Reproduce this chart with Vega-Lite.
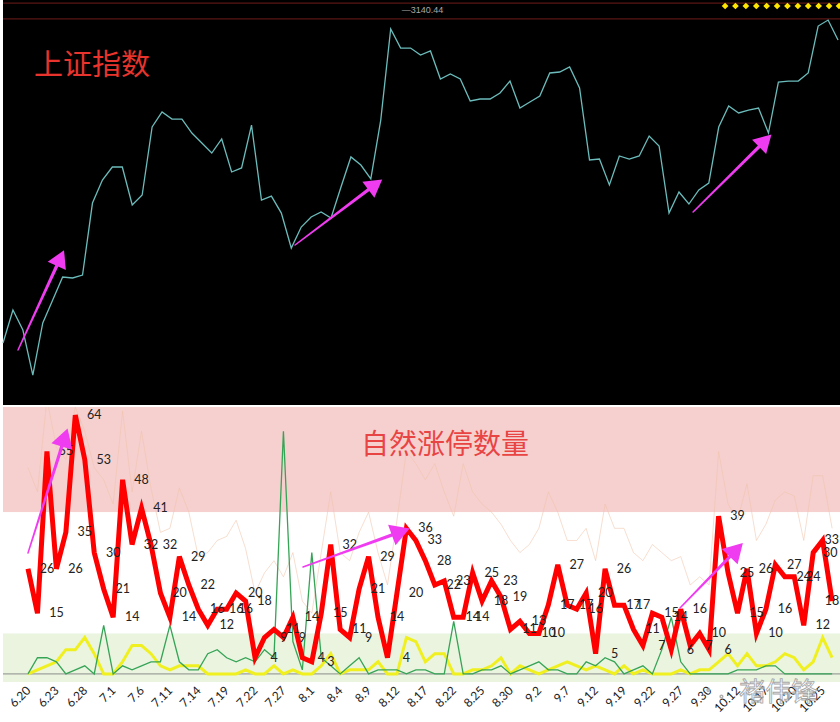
{
  "$schema": "https://vega.github.io/schema/vega-lite/v6.json",
  "padding": 0,
  "spacing": 0,
  "background": "#ffffff",
  "config": {"view": {"stroke": null}, "font": "Lato"},
  "datasets": {
    "top": [
      {"i":0,"v":2876.2},{"i":1,"v":2903.2},{"i":2,"v":2886.8},{"i":3,"v":2850.0},{"i":4,"v":2892.6},{"i":5,"v":2911.4},{"i":6,"v":2930.2},{"i":7,"v":2929.4},{"i":8,"v":2931.8},{"i":9,"v":2990.7},
      {"i":10,"v":3009.5},{"i":11,"v":3020.2},{"i":12,"v":3020.2},{"i":13,"v":2989.1},{"i":14,"v":2997.3},{"i":15,"v":3052.9},{"i":16,"v":3065.2},{"i":17,"v":3059.4},{"i":18,"v":3059.4},{"i":19,"v":3048.0},
      {"i":20,"v":3039.8},{"i":21,"v":3031.6},{"i":22,"v":3043.1},{"i":23,"v":3016.1},{"i":24,"v":3019.4},{"i":25,"v":3054.5},{"i":26,"v":2993.2},{"i":27,"v":2996.4},{"i":28,"v":2982.5},{"i":29,"v":2953.9},
      {"i":30,"v":2971.1},{"i":31,"v":2979.3},{"i":32,"v":2983.4},{"i":33,"v":2978.5},{"i":34,"v":3003.8},{"i":35,"v":3028.4},{"i":36,"v":3021.8},{"i":37,"v":3010.4},{"i":38,"v":3058.6},{"i":39,"v":3133.1},
      {"i":40,"v":3117.5},{"i":41,"v":3117.5},{"i":42,"v":3111.8},{"i":43,"v":3115.1},{"i":44,"v":3092.2},{"i":45,"v":3096.3},{"i":46,"v":3092.2},{"i":47,"v":3074.2},{"i":48,"v":3075.8},{"i":49,"v":3075.8},
      {"i":50,"v":3080.7},{"i":51,"v":3090.5},{"i":52,"v":3068.4},{"i":53,"v":3073.4},{"i":54,"v":3078.3},{"i":55,"v":3097.1},{"i":56,"v":3097.9},{"i":57,"v":3102.0},{"i":58,"v":3084.8},{"i":59,"v":3025.9},
      {"i":60,"v":3026.7},{"i":61,"v":3005.5},{"i":62,"v":3029.2},{"i":63,"v":3026.7},{"i":64,"v":3029.2},{"i":65,"v":3045.5},{"i":66,"v":3037.4},{"i":67,"v":2982.5},{"i":68,"v":2999.7},{"i":69,"v":2989.9},
      {"i":70,"v":3001.4},{"i":71,"v":3007.1},{"i":72,"v":3052.9},{"i":73,"v":3070.1},{"i":74,"v":3064.4},{"i":75,"v":3066.8},{"i":76,"v":3068.4},{"i":77,"v":3048.0},{"i":78,"v":3089.7},{"i":79,"v":3090.5},
      {"i":80,"v":3090.5},{"i":81,"v":3097.1},{"i":82,"v":3135.5},{"i":83,"v":3140.4},{"i":84,"v":3124.1}
    ],
    "topRules": [{"v":3154.3,"i":0,"i2":84.5},{"v":3141.3,"i":0,"i2":84.5}],
    "topText": [{"i":8.95,"v":3102.8,"t":"上证指数"}],
    "topValue": [{"i":42.2,"v":3148.6,"t":"—3140.44"}],
    "diamonds": [
      {"i":72.64,"v":3151.9},{"i":73.68,"v":3151.9},{"i":74.73,"v":3151.9},{"i":75.78,"v":3151.9},{"i":76.82,"v":3151.9},{"i":77.87,"v":3151.9},
      {"i":78.91,"v":3151.9},{"i":79.96,"v":3151.9},{"i":81.0,"v":3151.9},{"i":82.05,"v":3151.9},{"i":83.1,"v":3151.9},{"i":84.1,"v":3151.9}
    ],
    "arrowsTop": [
      {"a":1,"end":"tail","i":1.509,"v":2870.5},{"a":1,"end":"head","i":5.644,"v":2943.5},
      {"a":2,"end":"tail","i":29.38,"v":2956.4},{"a":2,"end":"head","i":37.20,"v":3004.3},
      {"a":3,"end":"tail","i":69.42,"v":2983.4},{"a":3,"end":"head","i":76.46,"v":3040.0}
    ],
    "headsTop": [
      {"i":5.775,"v":2945.7,"ang":24.7},{"i":37.45,"v":3005.8,"ang":53.0},{"i":76.68,"v":3041.7,"ang":45.4}
    ],
    "bands": [
      {"v":40,"v2":66,"b":"pink","i":-2.643,"i2":86.15},{"v":10,"v2":40,"b":"white","i":-2.643,"i2":86.15},{"v":-2,"v2":10,"b":"green","i":-2.643,"i2":86.15}
    ],
    "zero": [{"v":0,"i":-2.643,"i2":86.15}],
    "bot": [
      {"i":0,"red":26,"yel":0,"grn":0,"fnt":51},{"i":1,"red":15,"yel":1,"grn":4,"fnt":45},{"i":2,"red":55,"yel":2,"grn":4,"fnt":68},{"i":3,"red":26,"yel":3,"grn":3,"fnt":56},{"i":4,"red":35,"yel":6,"grn":0,"fnt":53},
      {"i":5,"red":64,"yel":6,"grn":1,"fnt":66},{"i":6,"red":53,"yel":9,"grn":2,"fnt":60},{"i":7,"red":30,"yel":5,"grn":0,"fnt":51},{"i":8,"red":21,"yel":0,"grn":12,"fnt":48},{"i":9,"red":14,"yel":0,"grn":0,"fnt":42},
      {"i":10,"red":48,"yel":3,"grn":2,"fnt":65},{"i":11,"red":32,"yel":7,"grn":1,"fnt":45},{"i":12,"red":41,"yel":7,"grn":2,"fnt":60},{"i":13,"red":32,"yel":5,"grn":3,"fnt":46},{"i":14,"red":20,"yel":2,"grn":3,"fnt":35},
      {"i":15,"red":14,"yel":1,"grn":12,"fnt":36},{"i":16,"red":29,"yel":2,"grn":3,"fnt":46},{"i":17,"red":22,"yel":2,"grn":1,"fnt":40},{"i":18,"red":16,"yel":2,"grn":1,"fnt":29},{"i":19,"red":12,"yel":0,"grn":5,"fnt":30},
      {"i":20,"red":16,"yel":0,"grn":6,"fnt":33},{"i":21,"red":16,"yel":0,"grn":4,"fnt":34},{"i":22,"red":20,"yel":0,"grn":3,"fnt":38},{"i":23,"red":18,"yel":1,"grn":4,"fnt":31},{"i":24,"red":4,"yel":0,"grn":3,"fnt":20},
      {"i":25,"red":9,"yel":0,"grn":6,"fnt":25},{"i":26,"red":11,"yel":2,"grn":4,"fnt":28},{"i":27,"red":9,"yel":0,"grn":60,"fnt":24},{"i":28,"red":14,"yel":1,"grn":8,"fnt":30},{"i":29,"red":4,"yel":0,"grn":1,"fnt":18},
      {"i":30,"red":3,"yel":0,"grn":30,"fnt":15},{"i":31,"red":15,"yel":2,"grn":4,"fnt":30},{"i":32,"red":32,"yel":5,"grn":2,"fnt":45},{"i":33,"red":11,"yel":0,"grn":0,"fnt":30},{"i":34,"red":9,"yel":1,"grn":2,"fnt":28},
      {"i":35,"red":21,"yel":1,"grn":4,"fnt":35},{"i":36,"red":29,"yel":1,"grn":0,"fnt":40},{"i":37,"red":14,"yel":3,"grn":1,"fnt":30},{"i":38,"red":4,"yel":0,"grn":1,"fnt":22},{"i":39,"red":20,"yel":0,"grn":1,"fnt":38},
      {"i":40,"red":36,"yel":9,"grn":0,"fnt":55},{"i":41,"red":33,"yel":8,"grn":1,"fnt":52},{"i":42,"red":28,"yel":3,"grn":1,"fnt":48},{"i":43,"red":22,"yel":5,"grn":0,"fnt":52},{"i":44,"red":23,"yel":5,"grn":0,"fnt":45},
      {"i":45,"red":14,"yel":0,"grn":13,"fnt":39},{"i":46,"red":14,"yel":0,"grn":0,"fnt":52},{"i":47,"red":25,"yel":1,"grn":0,"fnt":45},{"i":48,"red":18,"yel":1,"grn":1,"fnt":42},{"i":49,"red":23,"yel":2,"grn":1,"fnt":40},
      {"i":50,"red":19,"yel":4,"grn":2,"fnt":37},{"i":51,"red":11,"yel":0,"grn":0,"fnt":33},{"i":52,"red":13,"yel":2,"grn":1,"fnt":30},{"i":53,"red":10,"yel":1,"grn":2,"fnt":32},{"i":54,"red":10,"yel":0,"grn":3,"fnt":36},
      {"i":55,"red":17,"yel":1,"grn":1,"fnt":45},{"i":56,"red":27,"yel":2,"grn":1,"fnt":40},{"i":57,"red":17,"yel":3,"grn":0,"fnt":33},{"i":58,"red":16,"yel":2,"grn":0,"fnt":33},{"i":59,"red":20,"yel":1,"grn":3,"fnt":36},
      {"i":60,"red":5,"yel":2,"grn":2,"fnt":28},{"i":61,"red":26,"yel":1,"grn":4,"fnt":42},{"i":62,"red":17,"yel":0,"grn":3,"fnt":36},{"i":63,"red":17,"yel":2,"grn":0,"fnt":36},{"i":64,"red":11,"yel":0,"grn":1,"fnt":30},
      {"i":65,"red":7,"yel":1,"grn":2,"fnt":28},{"i":66,"red":15,"yel":0,"grn":0,"fnt":32},{"i":67,"red":14,"yel":0,"grn":6,"fnt":30},{"i":68,"red":6,"yel":0,"grn":14,"fnt":28},{"i":69,"red":16,"yel":1,"grn":3,"fnt":29},
      {"i":70,"red":7,"yel":0,"grn":0,"fnt":22},{"i":71,"red":10,"yel":1,"grn":0,"fnt":24},{"i":72,"red":6,"yel":1,"grn":0,"fnt":22},{"i":73,"red":39,"yel":3,"grn":0,"fnt":55},{"i":74,"red":25,"yel":5,"grn":0,"fnt":42},
      {"i":75,"red":15,"yel":2,"grn":1,"fnt":38},{"i":76,"red":26,"yel":5,"grn":1,"fnt":47},{"i":77,"red":10,"yel":2,"grn":1,"fnt":33},{"i":78,"red":16,"yel":2,"grn":2,"fnt":37},{"i":79,"red":27,"yel":3,"grn":2,"fnt":43},
      {"i":80,"red":24,"yel":5,"grn":0,"fnt":45},{"i":81,"red":24,"yel":4,"grn":0,"fnt":44},{"i":82,"red":12,"yel":1,"grn":0,"fnt":33},{"i":83,"red":30,"yel":3,"grn":0,"fnt":49},{"i":84,"red":33,"yel":9,"grn":0,"fnt":49},
      {"i":85,"red":18,"yel":4,"grn":0,"fnt":36}
    ],
    "arrowsBot": [
      {"a":4,"end":"tail","i":0.0,"v":29.9},{"a":4,"end":"head","i":3.784,"v":57.77},
      {"a":5,"end":"tail","i":29.07,"v":26.44},{"a":5,"end":"head","i":39.09,"v":34.89},
      {"a":6,"end":"tail","i":68.92,"v":16.3},{"a":6,"end":"head","i":74.66,"v":30.12}
    ],
    "headsBot": [
      {"i":3.879,"v":58.46,"ang":17.6},{"i":39.40,"v":35.16,"ang":70.1},{"i":74.87,"v":30.66,"ang":44.1}
    ],
    "botText": [{"i":44.08,"v":56.36,"t":"自然涨停数量"}],
    "mark": [{"i":79.3,"v":-4.6,"t":"褚伟锋"}],
    "icon": [{"i":71.9,"v":-4.0,"p":"big"},{"i":73.3,"v":-5.6,"p":"small"}]
  },
  "vconcat": [
    {
      "width": 840,
      "height": 405,
      "view": {"fill": "#000000", "stroke": null},
      "encoding": {
        "x": {"field": "i", "type": "quantitative", "scale": {"domain": [0, 84.5], "nice": false, "zero": false}, "axis": null},
        "y": {"field": "v", "type": "quantitative", "scale": {"domain": [2825.5, 3156.8], "nice": false, "zero": false}, "axis": null}
      },
      "layer": [
        {
          "data": {"name": "topRules"},
          "mark": {"type": "rule", "color": "#5a1616", "strokeWidth": 1.2},
          "encoding": {"x2": {"field": "i2"}}
        },
        {
          "data": {"name": "top"},
          "mark": {"type": "line", "color": "#6cbcbc", "strokeWidth": 1.3}
        },
        {
          "data": {"name": "arrowsTop"},
          "mark": {"type": "trail", "color": "#f03cf0"},
          "encoding": {
            "detail": {"field": "a", "type": "nominal"},
            "size": {"field": "end", "type": "nominal", "scale": {"domain": ["tail", "head"], "range": [1.5, 7.5]}, "legend": null}
          }
        },
        {
          "data": {"name": "headsTop"},
          "mark": {"type": "point", "shape": "triangle-up", "filled": true, "color": "#f03cf0", "opacity": 1, "size": 400},
          "encoding": {"angle": {"field": "ang", "type": "quantitative", "scale": null}}
        },
        {
          "data": {"name": "topText"},
          "mark": {"type": "text", "font": "Noto Sans CJK SC", "fontSize": 29, "color": "#e8342c", "align": "center", "baseline": "middle"},
          "encoding": {"text": {"field": "t"}}
        },
        {
          "data": {"name": "topValue"},
          "mark": {"type": "text", "font": "Liberation Sans", "fontSize": 9, "color": "#a8a8a8", "align": "center", "baseline": "middle"},
          "encoding": {"text": {"field": "t"}}
        },
        {
          "data": {"name": "diamonds"},
          "mark": {"type": "point", "shape": "diamond", "filled": true, "color": "#ffe600", "opacity": 1, "size": 45}
        }
      ]
    },
    {
      "width": 840,
      "height": 275,
      "encoding": {
        "x": {
          "field": "i", "type": "quantitative",
          "scale": {"domain": [-2.643, 86.15], "nice": false, "zero": false},
          "axis": {
            "values": [0,3,6,9,12,15,18,21,24,27,30,33,36,39,42,45,48,51,54,57,60,63,66,69,72,75,78,81,84],
            "labelExpr": "['6.20','6.23','6.28','7.1','7.6','7.11','7.14','7.19','7.22','7.27','8.1','8.4','8.9','8.12','8.17','8.22','8.25','8.30','9.2','9.7','9.12','9.19','9.22','9.27','9.30','10.12','10.17','10.20','10.25'][round(datum.value/3)]",
            "labelAngle": -45, "labelAlign": "right", "labelBaseline": "middle",
            "labelFont": "Lato", "labelFontSize": 12, "labelColor": "#222222",
            "labelPadding": 6, "ticks": false, "domain": false, "grid": false, "title": null, "labelOverlap": false
          }
        }
      },
      "layer": [
        {
          "data": {"name": "bands"},
          "mark": {"type": "rect"},
          "encoding": {
            "x2": {"field": "i2"},
            "y": {"field": "v", "type": "quantitative", "scale": {"domain": [-2, 66], "nice": false, "zero": false}, "axis": null},
            "y2": {"field": "v2"},
            "color": {"field": "b", "type": "nominal", "scale": {"domain": ["pink", "white", "green"], "range": ["#f6d0cf", "#ffffff", "#eaf4df"]}, "legend": null}
          }
        },
        {
          "data": {"name": "bot"},
          "mark": {"type": "line", "color": "#f0c2aa", "strokeWidth": 1, "opacity": 0.55, "clip": true},
          "encoding": {
            "y": {"field": "fnt", "type": "quantitative", "scale": {"domain": [-2, 66], "nice": false, "zero": false}, "axis": null}
          }
        },
        {
          "data": {"name": "zero"},
          "mark": {"type": "rule", "color": "#8c8c8c", "strokeWidth": 1},
          "encoding": {
            "x2": {"field": "i2"},
            "y": {"field": "v", "type": "quantitative", "scale": {"domain": [-2, 66], "nice": false, "zero": false}, "axis": null}
          }
        },
        {
          "data": {"name": "bot"},
          "mark": {"type": "line", "color": "#f0f020", "strokeWidth": 3},
          "encoding": {
            "y": {"field": "yel", "type": "quantitative", "scale": {"domain": [-2, 66], "nice": false, "zero": false}, "axis": null}
          }
        },
        {
          "data": {"name": "bot"},
          "mark": {"type": "line", "color": "#36a456", "strokeWidth": 1.3},
          "encoding": {
            "y": {"field": "grn", "type": "quantitative", "scale": {"domain": [-2, 66], "nice": false, "zero": false}, "axis": null}
          }
        },
        {
          "data": {"name": "bot"},
          "mark": {"type": "line", "color": "#ff0000", "strokeWidth": 5},
          "encoding": {
            "y": {"field": "red", "type": "quantitative", "scale": {"domain": [-2, 66], "nice": false, "zero": false}, "axis": null}
          }
        },
        {
          "data": {"name": "bot"},
          "transform": [{"filter": "datum.i <= 82"}],
          "mark": {"type": "text", "dx": 19, "fontSize": 12.5, "font": "Lato", "color": "#222222", "align": "center", "baseline": "middle"},
          "encoding": {
            "y": {"field": "red", "type": "quantitative", "scale": {"domain": [-2, 66], "nice": false, "zero": false}, "axis": null},
            "text": {"field": "red", "type": "quantitative"}
          }
        },
        {
          "data": {"name": "bot"},
          "transform": [{"filter": "datum.i == 83"}],
          "mark": {"type": "text", "dx": 17, "fontSize": 12.5, "font": "Lato", "color": "#222222", "align": "center", "baseline": "middle"},
          "encoding": {
            "y": {"field": "red", "type": "quantitative", "scale": {"domain": [-2, 66], "nice": false, "zero": false}, "axis": null},
            "text": {"field": "red", "type": "quantitative"}
          }
        },
        {
          "data": {"name": "bot"},
          "transform": [{"filter": "datum.i == 84"}],
          "mark": {"type": "text", "dx": 9, "fontSize": 12.5, "font": "Lato", "color": "#222222", "align": "center", "baseline": "middle"},
          "encoding": {
            "y": {"field": "red", "type": "quantitative", "scale": {"domain": [-2, 66], "nice": false, "zero": false}, "axis": null},
            "text": {"field": "red", "type": "quantitative"}
          }
        },
        {
          "data": {"name": "bot"},
          "transform": [{"filter": "datum.i == 85"}],
          "mark": {"type": "text", "dx": 0, "fontSize": 12.5, "font": "Lato", "color": "#222222", "align": "center", "baseline": "middle"},
          "encoding": {
            "y": {"field": "red", "type": "quantitative", "scale": {"domain": [-2, 66], "nice": false, "zero": false}, "axis": null},
            "text": {"field": "red", "type": "quantitative"}
          }
        },
        {
          "data": {"name": "arrowsBot"},
          "mark": {"type": "trail", "color": "#f03cf0"},
          "encoding": {
            "y": {"field": "v", "type": "quantitative", "scale": {"domain": [-2, 66], "nice": false, "zero": false}, "axis": null},
            "detail": {"field": "a", "type": "nominal"},
            "size": {"field": "end", "type": "nominal", "scale": {"domain": ["tail", "head"], "range": [2, 10]}, "legend": null}
          }
        },
        {
          "data": {"name": "headsBot"},
          "mark": {"type": "point", "shape": "triangle-up", "filled": true, "color": "#f03cf0", "opacity": 1, "size": 480},
          "encoding": {
            "y": {"field": "v", "type": "quantitative", "scale": {"domain": [-2, 66], "nice": false, "zero": false}, "axis": null},
            "angle": {"field": "ang", "type": "quantitative", "scale": null}
          }
        },
        {
          "data": {"name": "botText"},
          "mark": {"type": "text", "font": "Noto Sans CJK SC", "fontSize": 28, "color": "#e84444", "align": "center", "baseline": "middle"},
          "encoding": {
            "y": {"field": "v", "type": "quantitative", "scale": {"domain": [-2, 66], "nice": false, "zero": false}, "axis": null},
            "text": {"field": "t"}
          }
        },
        {
          "data": {"name": "icon"},
          "mark": {"type": "point", "shape": "circle", "filled": false, "color": "#b0b0b0", "strokeWidth": 1.5, "opacity": 1, "clip": false},
          "encoding": {
            "y": {"field": "v", "type": "quantitative", "scale": {"domain": [-2, 66], "nice": false, "zero": false}, "axis": null},
            "size": {"field": "p", "type": "nominal", "scale": {"domain": ["big", "small"], "range": [600, 300]}, "legend": null}
          }
        },
        {
          "data": {"name": "mark"},
          "mark": {"type": "text", "font": "Noto Sans CJK SC", "fontSize": 26, "fill": "#ffffff", "fillOpacity": 0.4, "stroke": "#a8a8a8", "strokeWidth": 0.9, "align": "center", "baseline": "middle", "clip": false},
          "encoding": {
            "y": {"field": "v", "type": "quantitative", "scale": {"domain": [-2, 66], "nice": false, "zero": false}, "axis": null},
            "text": {"field": "t"}
          }
        }
      ]
    }
  ]
}
